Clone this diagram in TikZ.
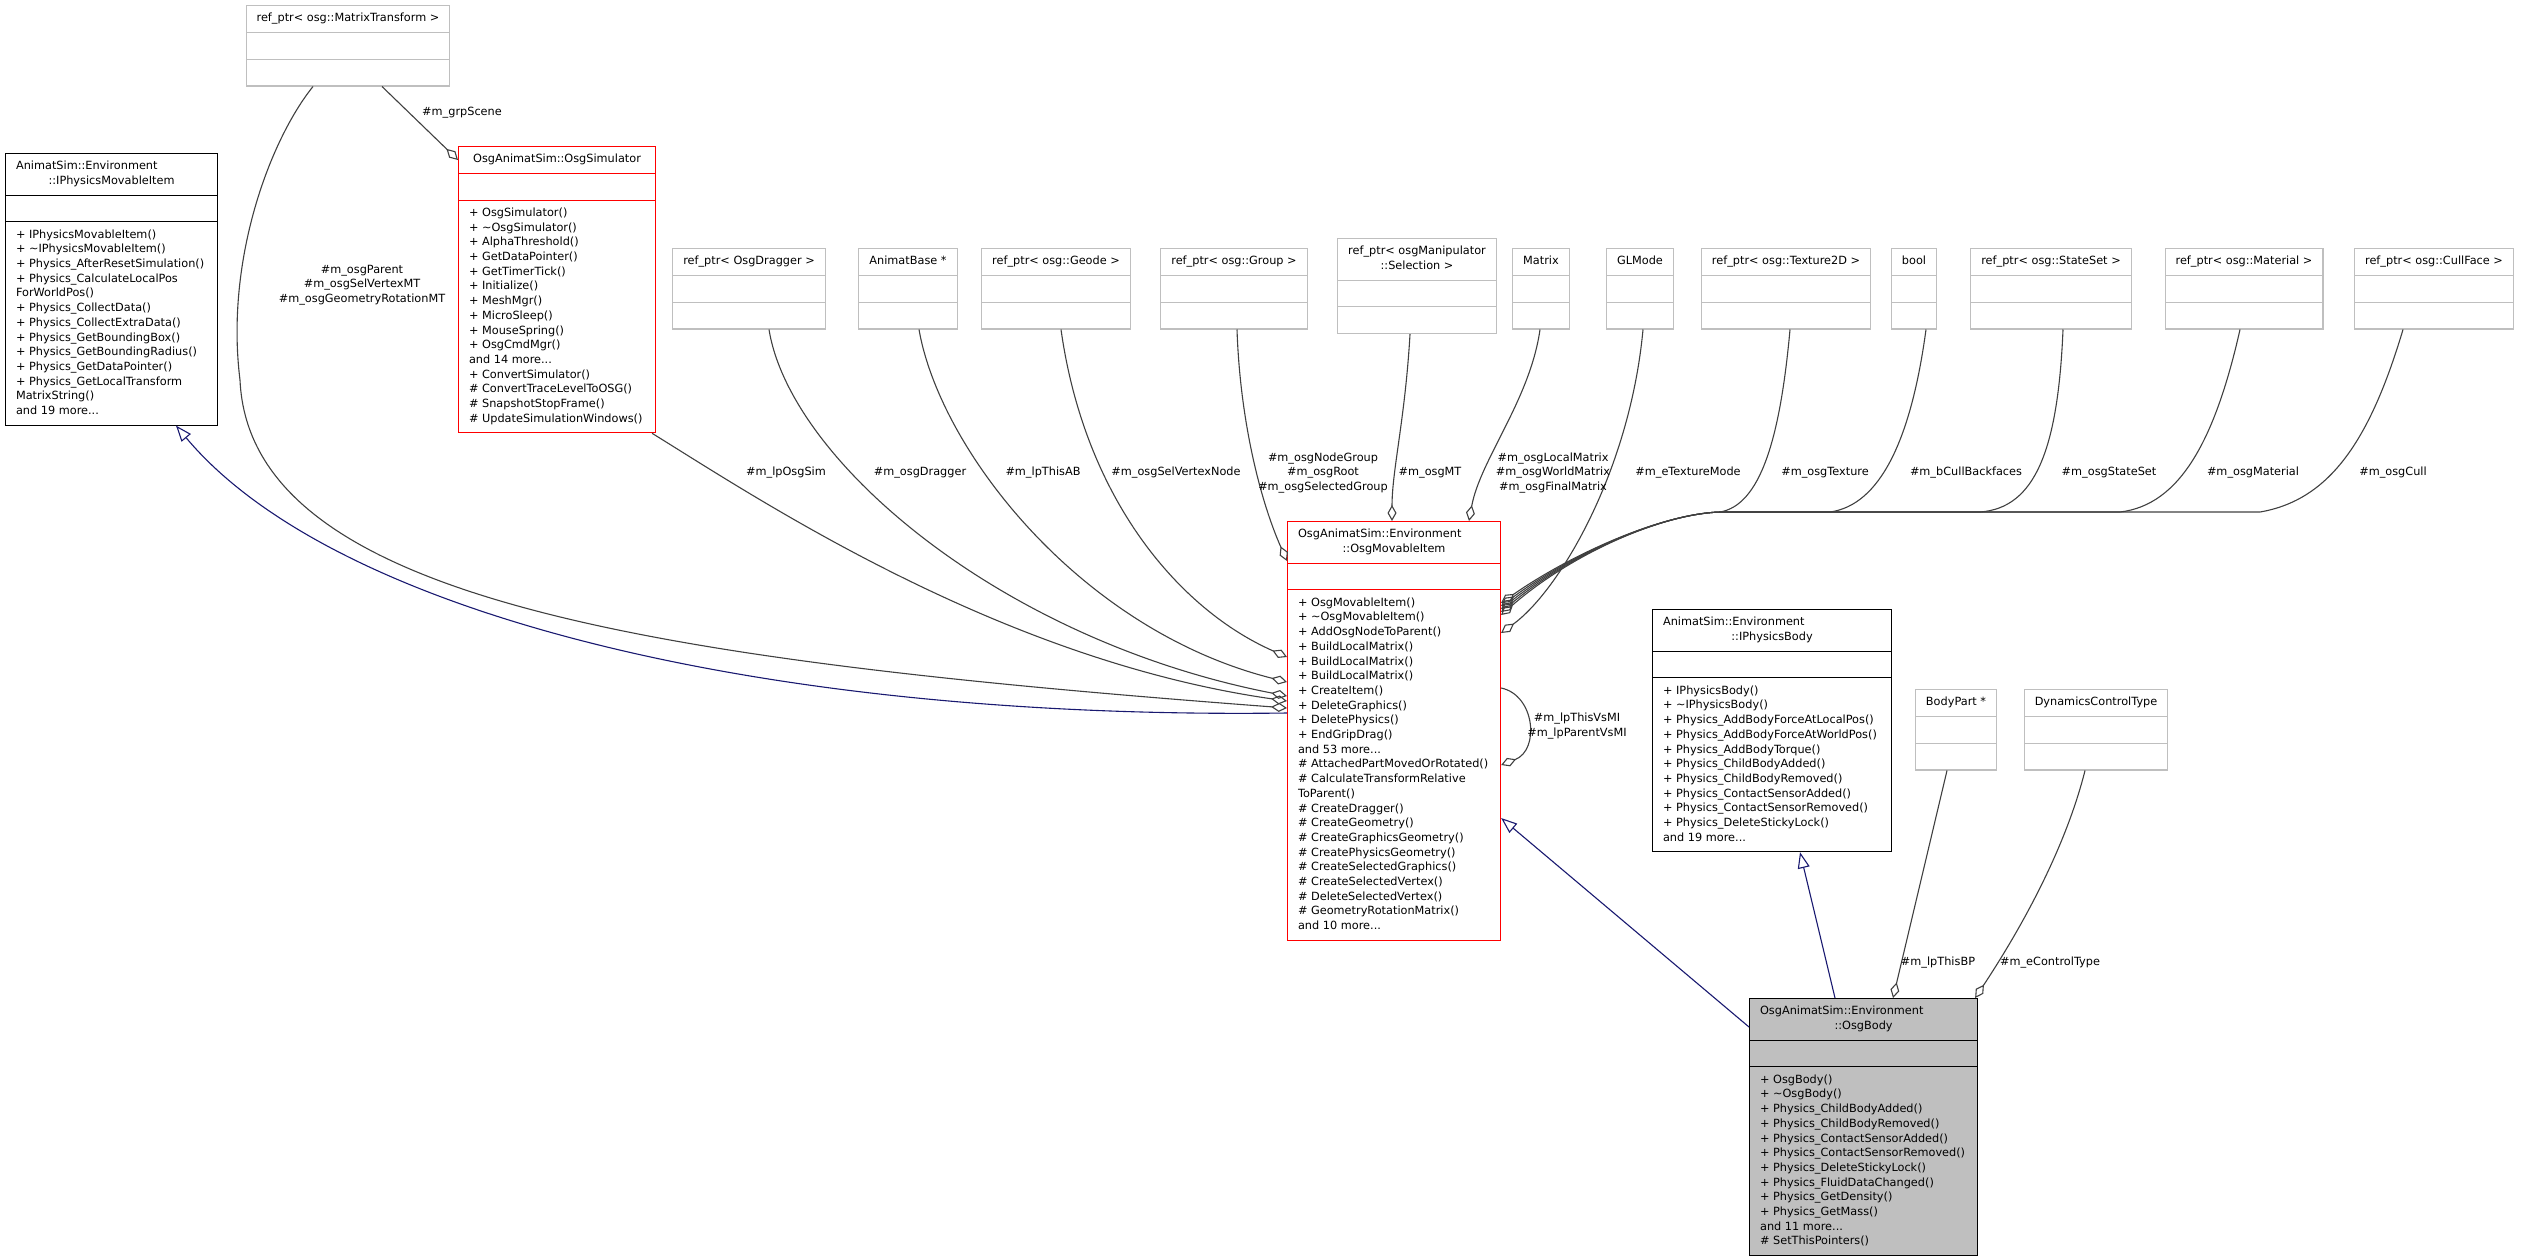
\documentclass[tikz,border=0pt]{standalone}
\usepackage{fontspec}
\setmainfont{DejaVu Sans}
\usetikzlibrary{shapes.multipart,arrows.meta}
\definecolor{grey75}{HTML}{BFBFBF}
\definecolor{edgegray}{HTML}{404040}
\definecolor{inhblue}{HTML}{191970}
\newcommand{\titleL}[2]{\makebox[#1][l]{#2}}
\newcommand{\titleC}[2]{\makebox[#1][c]{#2}}
\begin{document}
\begin{tikzpicture}[x=1pt,y=-1pt,
  cls/.style={rectangle split, rectangle split parts=3, rectangle split part align=left,
    draw=black, fill=white, line width=1.1pt, inner xsep=10.5pt, inner ysep=5.5pt,
    align=left, anchor=north west, font=\fontsize{11.3}{14.7}\selectfont},
  redcls/.style={cls, draw=red},
  refcls/.style={cls, draw=grey75, anchor=north},
  elabel/.style={font=\fontsize{11.3}{14.5}\selectfont, align=center, inner sep=0pt},
  aggr/.style={draw=edgegray, line width=1.1pt, -{Diamond[open,length=16pt,width=9pt]}},
  inherit/.style={draw=inhblue, line width=1.1pt, -{Triangle[open,length=16pt,width=12pt]}}]
  \useasboundingbox (0,0) rectangle (2521,1256);
  % Base classes
  \node[cls] (ipmi) at (5,153) {\strut\titleL{191pt}{AnimatSim::Environment}\\\titleC{191pt}{::IPhysicsMovableItem}\strut
    \nodepart{two}\strut
    \nodepart{three}\strut + IPhysicsMovableItem()\\+ \textasciitilde IPhysicsMovableItem()\\+ Physics\_AfterResetSimulation()\\+ Physics\_CalculateLocalPos\\ForWorldPos()\\+ Physics\_CollectData()\\+ Physics\_CollectExtraData()\\+ Physics\_GetBoundingBox()\\+ Physics\_GetBoundingRadius()\\+ Physics\_GetDataPointer()\\+ Physics\_GetLocalTransform\\MatrixString()\\and 19 more...\strut};
  \node[cls] (ipb) at (1652,609) {\strut\titleL{218pt}{AnimatSim::Environment}\\\titleC{218pt}{::IPhysicsBody}\strut
    \nodepart{two}\strut
    \nodepart{three}\strut + IPhysicsBody()\\+ \textasciitilde IPhysicsBody()\\+ Physics\_AddBodyForceAtLocalPos()\\+ Physics\_AddBodyForceAtWorldPos()\\+ Physics\_AddBodyTorque()\\+ Physics\_ChildBodyAdded()\\+ Physics\_ChildBodyRemoved()\\+ Physics\_ContactSensorAdded()\\+ Physics\_ContactSensorRemoved()\\+ Physics\_DeleteStickyLock()\\and 19 more...\strut};
  % Member types, top row
  \node[refcls] (mt) at (348,5) {\strut ref\_ptr< osg::MatrixTransform >\strut \nodepart{two}\strut \nodepart{three}\strut};
  \node[refcls] (drag) at (749,248) {\strut ref\_ptr< OsgDragger >\strut \nodepart{two}\strut \nodepart{three}\strut};
  \node[refcls] (abase) at (908,248) {\strut AnimatBase *\strut \nodepart{two}\strut \nodepart{three}\strut};
  \node[refcls] (geode) at (1056,248) {\strut ref\_ptr< osg::Geode >\strut \nodepart{two}\strut \nodepart{three}\strut};
  \node[refcls] (group) at (1234,248) {\strut ref\_ptr< osg::Group >\strut \nodepart{two}\strut \nodepart{three}\strut};
  \node[refcls, align=center] (sel) at (1417,238) {\strut ref\_ptr< osgManipulator\\::Selection >\strut \nodepart{two}\strut \nodepart{three}\strut};
  \node[refcls] (mat) at (1541,248) {\strut Matrix\strut \nodepart{two}\strut \nodepart{three}\strut};
  \node[refcls] (glmode) at (1640,248) {\strut GLMode\strut \nodepart{two}\strut \nodepart{three}\strut};
  \node[refcls] (tex) at (1786,248) {\strut ref\_ptr< osg::Texture2D >\strut \nodepart{two}\strut \nodepart{three}\strut};
  \node[refcls] (bool) at (1914,248) {\strut bool\strut \nodepart{two}\strut \nodepart{three}\strut};
  \node[refcls] (sset) at (2051,248) {\strut ref\_ptr< osg::StateSet >\strut \nodepart{two}\strut \nodepart{three}\strut};
  \node[refcls] (mater) at (2244,248) {\strut ref\_ptr< osg::Material >\strut \nodepart{two}\strut \nodepart{three}\strut};
  \node[refcls] (cull) at (2434,248) {\strut ref\_ptr< osg::CullFace >\strut \nodepart{two}\strut \nodepart{three}\strut};
  \node[refcls] (bpart) at (1956,689) {\strut BodyPart *\strut \nodepart{two}\strut \nodepart{three}\strut};
  \node[refcls] (dct) at (2096,689) {\strut DynamicsControlType\strut \nodepart{two}\strut \nodepart{three}\strut};
  % OsgAnimatSim classes
  \node[redcls] (sim) at (458,146) {\strut\titleC{176pt}{OsgAnimatSim::OsgSimulator}\strut
    \nodepart{two}\strut
    \nodepart{three}\strut + OsgSimulator()\\+ \textasciitilde OsgSimulator()\\+ AlphaThreshold()\\+ GetDataPointer()\\+ GetTimerTick()\\+ Initialize()\\+ MeshMgr()\\+ MicroSleep()\\+ MouseSpring()\\+ OsgCmdMgr()\\and 14 more...\\+ ConvertSimulator()\\\# ConvertTraceLevelToOSG()\\\# SnapshotStopFrame()\\\# UpdateSimulationWindows()\strut};
  \node[redcls] (omi) at (1287,521) {\strut\titleL{192pt}{OsgAnimatSim::Environment}\\\titleC{192pt}{::OsgMovableItem}\strut
    \nodepart{two}\strut
    \nodepart{three}\strut + OsgMovableItem()\\+ \textasciitilde OsgMovableItem()\\+ AddOsgNodeToParent()\\+ BuildLocalMatrix()\\+ BuildLocalMatrix()\\+ BuildLocalMatrix()\\+ CreateItem()\\+ DeleteGraphics()\\+ DeletePhysics()\\+ EndGripDrag()\\and 53 more...\\\# AttachedPartMovedOrRotated()\\\# CalculateTransformRelative\\ToParent()\\\# CreateDragger()\\\# CreateGeometry()\\\# CreateGraphicsGeometry()\\\# CreatePhysicsGeometry()\\\# CreateSelectedGraphics()\\\# CreateSelectedVertex()\\\# DeleteSelectedVertex()\\\# GeometryRotationMatrix()\\and 10 more...\strut};
  \node[cls, fill=grey75] (obody) at (1749,998) {\strut\titleL{207pt}{OsgAnimatSim::Environment}\\\titleC{207pt}{::OsgBody}\strut
    \nodepart{two}\strut
    \nodepart{three}\strut + OsgBody()\\+ \textasciitilde OsgBody()\\+ Physics\_ChildBodyAdded()\\+ Physics\_ChildBodyRemoved()\\+ Physics\_ContactSensorAdded()\\+ Physics\_ContactSensorRemoved()\\+ Physics\_DeleteStickyLock()\\+ Physics\_FluidDataChanged()\\+ Physics\_GetDensity()\\+ Physics\_GetMass()\\and 11 more...\\\# SetThisPointers()\strut};
  % Inheritance
  \draw[inherit] ([yshift=-192pt]omi.north west) .. controls (750,720) and (330,610) .. ([xshift=171pt]ipmi.south west);
  \draw[inherit] ([yshift=-29pt]obody.north west) -- ([yshift=-297pt]omi.north east);
  \draw[inherit] ([xshift=86pt]obody.north west) -- ([xshift=148pt]ipb.south west);
  % Members of OsgSimulator and OsgMovableItem, left side
  \draw[aggr] ([xshift=34pt]mt.south) -- ([yshift=-14pt]sim.north west);
  \draw[aggr] ([xshift=-35pt]mt.south) .. controls (270,140) and (225,260) .. (240,380)
    .. controls (250,600) and (650,660) .. ([yshift=-187pt]omi.north west);
  \draw[aggr] ([xshift=-4pt]sim.south east) .. controls (760,500) and (1000,660) .. ([yshift=-180pt]omi.north west);
  \draw[aggr] ([xshift=20pt]drag.south) .. controls (790,460) and (1000,640) .. ([yshift=-175pt]omi.north west);
  \draw[aggr] ([xshift=11pt]abase.south) .. controls (940,450) and (1080,630) .. ([yshift=-161pt]omi.north west);
  \draw[aggr] ([xshift=5pt]geode.south) .. controls (1085,500) and (1180,610) .. ([yshift=-136pt]omi.north west);
  \draw[aggr] ([xshift=3pt]group.south) .. controls (1240,420) and (1260,500) .. ([yshift=-40pt]omi.north west);
  % Members, top side
  \draw[aggr] ([xshift=-7pt]sel.south) .. controls (1405,420) and (1392,470) .. ([xshift=105pt]omi.north west);
  \draw[aggr] ([xshift=-1pt]mat.south) .. controls (1530,400) and (1480,460) .. ([xshift=182pt]omi.north west);
  % Members, right side
  \draw[aggr] ([xshift=3pt]glmode.south) .. controls (1630,470) and (1560,590) .. ([yshift=-112pt]omi.north east);
  \draw[aggr] ([xshift=4pt]tex.south) .. controls (1780,440) and (1760,505) .. (1720,512)
    .. controls (1660,514) and (1570,555) .. ([yshift=-82pt]omi.north east);
  \draw[aggr] ([xshift=12pt]bool.south) .. controls (1911,440) and (1880,505) .. (1830,512) -- (1720,512)
    .. controls (1660,514) and (1570,555) .. ([yshift=-85pt]omi.north east);
  \draw[aggr] ([xshift=12pt]sset.south) .. controls (2058,450) and (2035,508) .. (1980,512) -- (1720,512)
    .. controls (1660,514) and (1570,555) .. ([yshift=-88pt]omi.north east);
  \draw[aggr] ([xshift=-4pt]mater.south) .. controls (2215,440) and (2180,505) .. (2120,512) -- (1720,512)
    .. controls (1660,514) and (1570,555) .. ([yshift=-91pt]omi.north east);
  \draw[aggr] ([xshift=-31pt]cull.south) .. controls (2370,440) and (2330,500) .. (2260,512) -- (1720,512)
    .. controls (1660,514) and (1570,555) .. ([yshift=-94pt]omi.north east);
  \draw[aggr] ([yshift=-167pt]omi.north east) .. controls (1535,695) and (1540,750) .. ([yshift=-244pt]omi.north east);
  % Members of OsgBody
  \draw[aggr] ([xshift=-9pt]bpart.south) -- ([xshift=144pt]obody.north west);
  \draw[aggr] ([xshift=-11pt]dct.south) .. controls (2065,850) and (2020,930) .. ([xshift=-3pt]obody.north east);
  % Edge labels
  \node[elabel] (lgrp) at (462,113) {\#m\_grpScene};
  \node[elabel] (lpar) at (362,285) {\#m\_osgParent\\\#m\_osgSelVertexMT\\\#m\_osgGeometryRotationMT};
  \node[elabel] (lsim) at (786,473) {\#m\_lpOsgSim};
  \node[elabel] (ldrag) at (920,473) {\#m\_osgDragger};
  \node[elabel] (lab) at (1043,473) {\#m\_lpThisAB};
  \node[elabel] (lgeode) at (1176,473) {\#m\_osgSelVertexNode};
  \node[elabel] (lgroup) at (1323,473) {\#m\_osgNodeGroup\\\#m\_osgRoot\\\#m\_osgSelectedGroup};
  \node[elabel] (lsel) at (1430,473) {\#m\_osgMT};
  \node[elabel] (lmat) at (1553,473) {\#m\_osgLocalMatrix\\\#m\_osgWorldMatrix\\\#m\_osgFinalMatrix};
  \node[elabel] (lgl) at (1688,473) {\#m\_eTextureMode};
  \node[elabel] (ltex) at (1825,473) {\#m\_osgTexture};
  \node[elabel] (lbool) at (1966,473) {\#m\_bCullBackfaces};
  \node[elabel] (lsset) at (2109,473) {\#m\_osgStateSet};
  \node[elabel] (lmater) at (2253,473) {\#m\_osgMaterial};
  \node[elabel] (lcull) at (2393,473) {\#m\_osgCull};
  \node[elabel] (lself) at (1577,726) {\#m\_lpThisVsMI\\\#m\_lpParentVsMI};
  \node[elabel] (lbp) at (1938,963) {\#m\_lpThisBP};
  \node[elabel] (ldct) at (2050,963) {\#m\_eControlType};
\end{tikzpicture}
\end{document}
